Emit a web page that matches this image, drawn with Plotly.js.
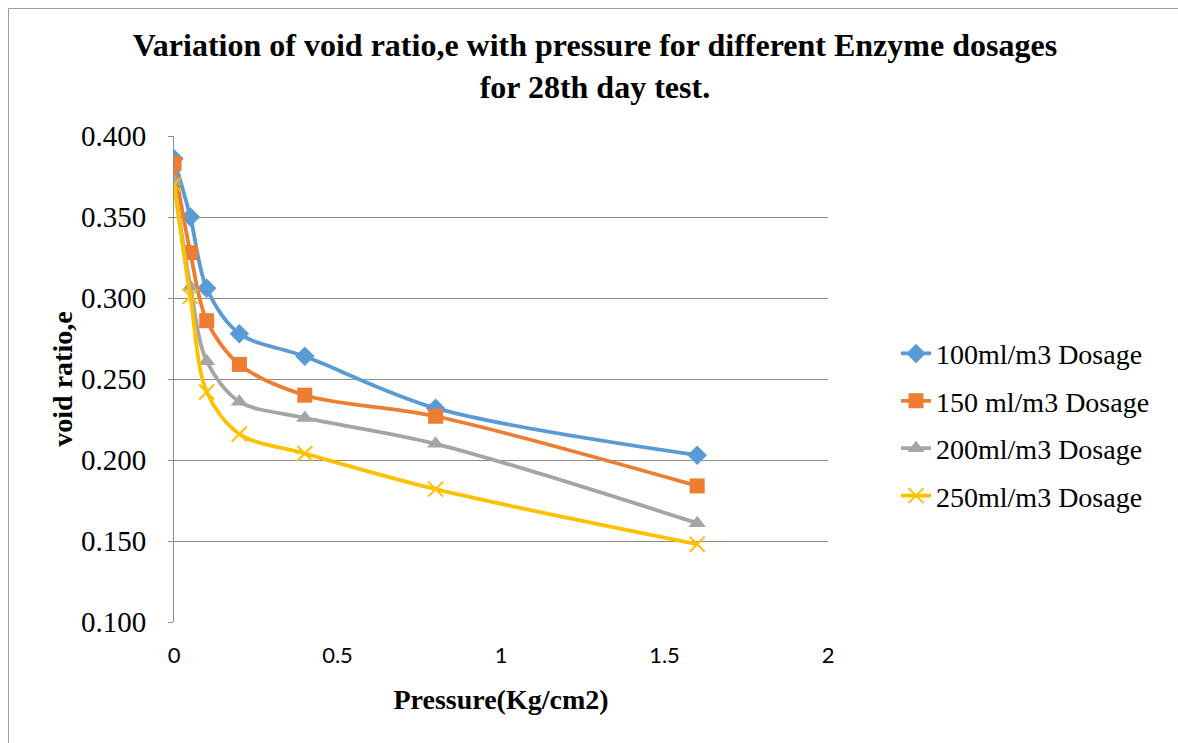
<!DOCTYPE html>
<html>
<head>
<meta charset="utf-8">
<script src="https://cdn.plot.ly/plotly-3.0.1.min.js"></script>
<style>
html,body{margin:0;padding:0;background:#fff;}
#wrap{position:relative;width:1178px;height:743px;overflow:hidden;}
#chart{position:absolute;left:0;top:0;width:1178px;height:743px;}
#frame{position:absolute;left:8px;top:8px;width:1170px;height:740px;border:1px solid #a0a0a0;pointer-events:none;}
</style>
</head>
<body>
<div id="wrap"><div id="chart"></div><div id="frame"></div></div>
<script>
const pressure = [0, 0.05, 0.1, 0.2, 0.4, 0.8, 1.6];
const seriesNames = ["100ml/m3 Dosage", "150 ml/m3 Dosage", "200ml/m3 Dosage", "250ml/m3 Dosage"];
const dose100 = [0.386, 0.350, 0.306, 0.278, 0.264, 0.232, 0.203];
const dose150 = [0.383, 0.328, 0.286, 0.259, 0.240, 0.227, 0.184];
const dose200 = [0.372, 0.307, 0.261, 0.236, 0.226, 0.210, 0.161];
const dose250 = [0.370, 0.301, 0.242, 0.216, 0.204, 0.182, 0.148];
const yTicks = [0.100, 0.150, 0.200, 0.250, 0.300, 0.350, 0.400];
const xTicks = [0, 0.5, 1, 1.5, 2];

const colors = ["#5b9bd5", "#ed7d31", "#a5a5a5", "#ffc000"];
const symbols = ["diamond", "square", "triangle-up", "x-thin-open"];
const sizes = [15, 15, 15, 15];
const allY = [dose100, dose150, dose200, dose250];

const traces = allY.map((ys, i) => ({
  x: pressure, y: ys, name: seriesNames[i], type: "scatter", mode: "lines+markers",
  legendgroup: "g" + i,
  line: {color: colors[i], width: 3.8, shape: "spline", smoothing: 0.9},
  marker: {symbol: symbols[i], size: sizes[i], color: colors[i],
           line: {color: colors[i], width: i === 3 ? 2 : 0}}
}));

const serif = "Liberation Serif, Times New Roman, serif";
const layout = {
  width: 1178, height: 743,
  margin: {l: 174, r: 350, t: 136, b: 121},
  paper_bgcolor: "#fff", plot_bgcolor: "#fff",
  title: {text: "<b>Variation of void ratio,e with pressure for different Enzyme dosages<br>for 28th day test.</b>",
          font: {family: serif, size: 32, color: "#000"}, x: 0.505, xanchor: "center", y: 0.924, yanchor: "top"},
  xaxis: {range: [0, 2], tickvals: xTicks, ticktext: xTicks.map(String),
          showgrid: false, zeroline: false, showline: false, ticks: "",
          ticklabelstandoff: 18,
          tickfont: {family: "Lato, Carlito, sans-serif", size: 22, color: "#000"},
          title: {text: "<b>Pressure(Kg/cm2)</b>", font: {family: serif, size: 28, color: "#000"}, standoff: 22}},
  yaxis: {range: [0.1, 0.4], tickvals: yTicks, ticktext: yTicks.map(v => v.toFixed(3)),
          showgrid: true, gridcolor: "#8c8c8c", gridwidth: 1, zeroline: false,
          showline: true, linecolor: "#8c8c8c", linewidth: 1,
          ticks: "outside", ticklen: 5, tickcolor: "#8c8c8c",
          ticklabelstandoff: 16,
          tickfont: {family: serif, size: 29, color: "#000"},
          title: {text: "<b>void ratio,e</b>", font: {family: serif, size: 28, color: "#000"}, standoff: 0}},
  legend: {x: 1.104, xanchor: "left", y: 0.406, yanchor: "middle",
           font: {family: serif, size: 28, color: "#000"}, tracegroupgap: 8,
           bgcolor: "rgba(0,0,0,0)"},
  showlegend: true
};

Plotly.newPlot("chart", traces, layout, {displayModeBar: false, staticPlot: true});
</script>
</body>
</html>
